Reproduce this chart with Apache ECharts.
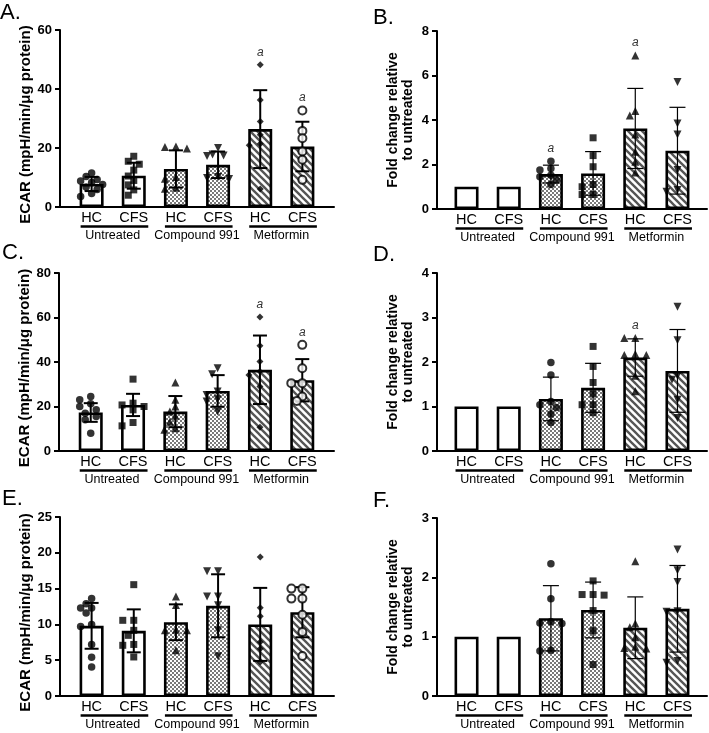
<!DOCTYPE html>
<html><head><meta charset="utf-8">
<script src="https://cdn.jsdelivr.net/npm/echarts@6/dist/echarts.min.js"></script>
<style>html,body{margin:0;padding:0;background:#fff}#c{width:709px;height:733px}</style>
</head><body><div id="c"></div>
<script>
// ---------- DATA ----------
const categories = ['HC', 'CFS', 'HC', 'CFS', 'HC', 'CFS'];
const groupNames = ['Untreated', 'Compound 991', 'Metformin'];
const groupSpans = [[0, 1], [2, 3], [4, 5]];
const ecarTitle = 'ECAR (mpH/min/\u03bcg protein)';
const foldTitle = 'Fold change relative\nto untreated';
const panelLetters = ['A.', 'B.', 'C.', 'D.', 'E.', 'F.'];

const yTicksA = [0, 20, 40, 60];
const yTicksB = [0, 2, 4, 6, 8];
const yTicksC = [0, 20, 40, 60, 80];
const yTicksD = [0, 1, 2, 3, 4];
const yTicksE = [0, 5, 10, 15, 20, 25];
const yTicksF = [0, 1, 2, 3];

// Panel A
const aMeans = [7.8, 10.6, 12.9, 14.3, 26.4, 20.5];
const aSD = [2.4, 4.4, 6.3, 4.5, 13.2, 8.4];
const aPoints = [
  [11.5, 10.3, 9.3, 8.8, 8.3, 7.6, 6.8, 5.9, 4.6, 3.6],
  [17.2, 15.5, 14.5, 12.5, 10.5, 9.0, 7.5, 5.8, 4.0],
  [20.5, 20.3, 19.8, 10.2, 9.6, 6.5, 6.2],
  [20.0, 17.8, 17.5, 17.3, 10.2, 9.8, 9.5],
  [48.2, 36.3, 29.0, 24.5, 21.4, 20.9, 6.1],
  [32.7, 25.8, 23.3, 18.8, 16.0, 9.2]
];
const aSig = [0, 0, 0, 0, 1, 1];

// Panel B
const bMeans = [1, 1, 1.57, 1.6, 3.62, 2.62];
const bSD = [0, 0, 0.4, 0.98, 1.8, 1.95];
const bPoints = [
  [], [],
  [2.15, 1.82, 1.75, 1.52, 1.45, 1.3, 1.1],
  [3.2, 2.4, 1.9, 1.1, 1.0, 0.65, 0.65],
  [6.9, 4.4, 4.2, 3.35, 2.57, 2.12, 1.64],
  [5.71, 3.84, 3.35, 1.75, 0.85, 0.78]
];
const bSig = [0, 0, 1, 0, 1, 0];

// Panel C
const cMeans = [17.3, 20.7, 17.7, 27.0, 36.5, 31.8];
const cSD = [4.2, 5.0, 7.0, 7.1, 15.4, 9.5];
const cPoints = [
  [24.5, 23.0, 21.2, 20.0, 18.5, 17.0, 15.5, 14.0, 8.0],
  [32.3, 21.5, 20.7, 20.0, 18.5, 12.8, 11.3],
  [30.8, 23.0, 20.0, 17.7, 15.8, 13.2, 10.2, 9.5],
  [37.2, 34.5, 26.7, 25.2, 23.3, 22.2, 17.7],
  [60.2, 47.3, 40.2, 35.7, 34.2, 29.0, 10.7],
  [47.7, 37.2, 30.5, 30.5, 24.5, 22.5]
];
const cSig = [0, 0, 0, 0, 1, 1];

// Panel D
const dMeans = [1, 1, 1.17, 1.42, 2.1, 1.8];
const dSD = [0, 0, 0.49, 0.55, 0.42, 0.93];
const dPoints = [
  [], [],
  [1.99, 1.71, 1.11, 1.04, 0.98, 0.83, 0.64],
  [2.35, 1.9, 1.54, 1.28, 1.04, 1.04, 0.86],
  [2.54, 2.54, 2.18, 2.16, 2.16, 1.69, 1.34],
  [3.24, 2.49, 1.69, 1.6, 1.15, 0.74]
];
const dSig = [0, 0, 0, 0, 1, 0];

// Panel E
const eMeans = [9.8, 9.1, 10.3, 12.6, 10.0, 11.7];
const eSD = [3.2, 3.0, 2.5, 4.4, 5.1, 3.5];
const ePoints = [
  [13.6, 12.9, 12.3, 12.3, 11.6, 10.0, 9.7, 7.2, 5.4, 4.05],
  [15.55, 10.57, 10.57, 9.17, 8.47, 7.2, 7.08, 5.45],
  [13.9, 12.7, 9.26, 9.17, 9.17, 6.38],
  [17.41, 17.41, 13.9, 13.9, 12.66, 9.17, 5.54],
  [19.41, 12.34, 11.13, 7.54, 6.61, 4.75],
  [15.0, 15.0, 13.6, 13.6, 11.36, 8.94, 5.59]
];
const eSig = [0, 0, 0, 0, 0, 0];

// Panel F
const fMeans = [1, 1, 1.31, 1.45, 1.15, 1.47];
const fSD = [0, 0, 0.55, 0.47, 0.52, 0.73];
const fPoints = [
  [], [],
  [2.23, 1.64, 1.25, 1.23, 1.22, 0.77, 0.76],
  [1.94, 1.71, 1.71, 1.7, 1.44, 1.1, 0.53],
  [2.27, 1.22, 1.16, 0.99, 0.83, 0.81, 0.8],
  [2.47, 2.12, 1.92, 1.43, 1.42, 0.59, 0.56]
];
const fSig = [0, 0, 0, 0, 0, 0];

// ---------- STYLE / LAYOUT ----------
const FONT = '"Liberation Sans", Arial, Helvetica, sans-serif';

function makeChecker() {
  const c = document.createElement('canvas'); c.width = 4; c.height = 4;
  const g = c.getContext('2d');
  g.fillStyle = '#fff'; g.fillRect(0, 0, 4, 4);
  g.fillStyle = '#7a7a7a'; g.fillRect(0, 0, 2, 2); g.fillRect(2, 2, 2, 2);
  return c;
}
function makeStripes() {
  const s = 7;
  const c = document.createElement('canvas'); c.width = s; c.height = s;
  const g = c.getContext('2d');
  g.fillStyle = '#fff'; g.fillRect(0, 0, s, s);
  g.strokeStyle = '#555'; g.lineWidth = 2.3;
  for (const k of [-s, 0, s]) { g.beginPath(); g.moveTo(-1, k - 1); g.lineTo(s + 1, s + k + 1); g.stroke(); }
  return c;
}
const checkerFill = { image: makeChecker(), repeat: 'repeat' };
const stripeFill = { image: makeStripes(), repeat: 'repeat' };
const barFills = ['#fff', '#fff', checkerFill, checkerFill, stripeFill, stripeFill];

const ecarSymbols = [
  { symbol: 'circle', size: 7.5, rot: 0, open: false },
  { symbol: 'rect', size: 7, rot: 0, open: false },
  { symbol: 'triangle', size: 8, rot: 0, open: false },
  { symbol: 'triangle', size: 8, rot: 180, open: false },
  { symbol: 'diamond', size: 7, rot: 0, open: false },
  { symbol: 'circle', size: 8, rot: 0, open: true }
];
const foldSymbols = [
  null, null,
  { symbol: 'circle', size: 7.5, rot: 0, open: false },
  { symbol: 'rect', size: 7, rot: 0, open: false },
  { symbol: 'triangle', size: 8, rot: 0, open: false },
  { symbol: 'triangle', size: 8, rot: 180, open: false }
];

const panels = [
  { means: aMeans, sd: aSD, pts: aPoints, sig: aSig, ticks: yTicksA, kind: 'ecar',
    L: { left: 60, top: 30, width: 274, height: 177, xmin: -0.75, xmax: 5.75, lx: 0, ly: 15 } },
  { means: bMeans, sd: bSD, pts: bPoints, sig: bSig, ticks: yTicksB, kind: 'fold',
    L: { left: 437, top: 31, width: 270, height: 178, xmin: -0.7, xmax: 5.7, lx: 373, ly: 20 } },
  { means: cMeans, sd: cSD, pts: cPoints, sig: cSig, ticks: yTicksC, kind: 'ecar',
    L: { left: 59, top: 273, width: 275, height: 178, xmin: -0.75, xmax: 5.75, lx: 2, ly: 255 } },
  { means: dMeans, sd: dSD, pts: dPoints, sig: dSig, ticks: yTicksD, kind: 'fold',
    L: { left: 437, top: 273, width: 270, height: 178, xmin: -0.7, xmax: 5.7, lx: 373, ly: 257 } },
  { means: eMeans, sd: eSD, pts: ePoints, sig: eSig, ticks: yTicksE, kind: 'ecar',
    L: { left: 60, top: 517, width: 274, height: 179, xmin: -0.75, xmax: 5.75, lx: 2, ly: 501 } },
  { means: fMeans, sd: fSD, pts: fPoints, sig: fSig, ticks: yTicksF, kind: 'fold',
    L: { left: 437, top: 518, width: 270, height: 178, xmin: -0.7, xmax: 5.7, lx: 373, ly: 503 } }
];

// deterministic beeswarm-like horizontal spreading (pixel based)
function swarm(vals, pxY, unitPx) {
  const order = vals.map((v, i) => i).sort((a, b) => vals[b] - vals[a]);
  const placed = [], res = new Array(vals.length).fill(0);
  const cand = [0, -1, 1, -2, 2];
  const step = 5.5, minD = 6.5;
  for (const i of order) {
    const y = vals[i] * pxY;
    let best = 0, bestD = -1;
    for (const k of cand) {
      const x = k * step;
      const d = placed.length ? Math.min(...placed.map(p => Math.hypot(p.x - x, p.y - y))) : 1e9;
      if (d >= minD) { best = x; bestD = 1e9; break; }
      if (d > bestD) { bestD = d; best = x; }
    }
    placed.push({ x: best, y: y });
    res[i] = best / unitPx;
  }
  return res;
}

const option = {
  backgroundColor: '#fff', animation: false,
  textStyle: { fontFamily: FONT },
  grid: [], xAxis: [], yAxis: [], series: [], graphic: []
};

panels.forEach((p, gi) => {
  const L = p.L;
  const ymax = p.ticks[p.ticks.length - 1];
  const yint = p.ticks[1] - p.ticks[0];
  const isEcar = p.kind === 'ecar';
  const unitPx = L.width / (L.xmax - L.xmin);
  const pxY = L.height / ymax;

  option.grid.push({ left: L.left, top: L.top, width: L.width, height: L.height, containLabel: false, outerBoundsMode: 'none' });
  option.xAxis.push({
    type: 'value', gridIndex: gi, min: L.xmin, max: L.xmax,
    axisLine: { show: true, onZero: false, lineStyle: { color: '#000', width: 2 } },
    axisTick: { show: false }, axisLabel: { show: false }, splitLine: { show: false }
  });
  option.yAxis.push({
    type: 'value', gridIndex: gi, min: 0, max: ymax, interval: yint,
    name: isEcar ? ecarTitle : foldTitle, nameLocation: 'middle', nameRotate: 90, nameGap: isEcar ? 21.5 : 21,
    nameTextStyle: isEcar
      ? { fontFamily: FONT, fontWeight: 'bold', fontSize: 15, color: '#000', padding: [0, 12, 0, 0] }
      : { fontFamily: FONT, fontWeight: 'bold', fontSize: 14, color: '#000', lineHeight: 15.5 },
    axisLine: { show: true, onZero: false, lineStyle: { color: '#000', width: 2 } },
    axisTick: { show: true, length: 5, lineStyle: { color: '#000', width: 2 } },
    axisLabel: { color: '#000', fontWeight: 'bold', fontSize: 13, margin: 8, fontFamily: FONT },
    splitLine: { show: false }
  });

  // bars
  option.series.push({
    type: 'bar', xAxisIndex: gi, yAxisIndex: gi, barWidth: 24, z: 2, silent: true,
    data: p.means.map((m, i) => ({ value: [i, m], itemStyle: { color: barFills[i], borderColor: '#000', borderWidth: 2.6 } }))
  });

  // error bars
  const lw = isEcar ? 2 : 1.2, cap = isEcar ? 7 : 8;
  option.series.push({
    type: 'custom', xAxisIndex: gi, yAxisIndex: gi, z: 4, silent: true, clip: false,
    data: p.means.map((m, i) => [i, m - p.sd[i], m + p.sd[i]]).filter((d, i) => p.sd[i] > 0),
    renderItem: function (params, api) {
      const i = api.value(0);
      const a = api.coord([i, api.value(1)]), b = api.coord([i, api.value(2)]);
      const st = { stroke: '#000', lineWidth: lw };
      return { type: 'group', children: [
        { type: 'line', shape: { x1: a[0], y1: a[1], x2: b[0], y2: b[1] }, style: st },
        { type: 'line', shape: { x1: a[0] - cap, y1: a[1], x2: a[0] + cap, y2: a[1] }, style: st },
        { type: 'line', shape: { x1: b[0] - cap, y1: b[1], x2: b[0] + cap, y2: b[1] }, style: st }
      ] };
    }
  });

  // points
  const syms = isEcar ? ecarSymbols : foldSymbols;
  const scatterData = [];
  p.pts.forEach((vals, i) => {
    if (!vals.length) return;
    const s = syms[i];
    const offs = swarm(vals, pxY, unitPx);
    vals.forEach((v, k) => {
      scatterData.push({
        value: [i + offs[k], v], symbol: s.symbol, symbolSize: s.size, symbolRotate: s.rot,
        itemStyle: s.open ? { color: '#fff', borderColor: '#000', borderWidth: 2 } : { color: '#000', borderWidth: 0 }
      });
    });
  });
  option.series.push({ type: 'scatter', xAxisIndex: gi, yAxisIndex: gi, z: 5, silent: true, data: scatterData });

  // category labels
  option.series.push({
    type: 'custom', xAxisIndex: gi, yAxisIndex: gi, z: 5, silent: true, clip: false,
    data: categories.map((c, i) => [i, 0]),
    renderItem: function (params, api) {
      const pt = api.coord([api.value(0), 0]);
      return { type: 'text', style: { text: categories[params.dataIndex], x: pt[0], y: pt[1] + 10.5,
        align: 'center', verticalAlign: 'middle', font: '14.5px ' + FONT, fill: '#000' } };
    }
  });
  // group underline + names
  option.series.push({
    type: 'custom', xAxisIndex: gi, yAxisIndex: gi, z: 5, silent: true, clip: false,
    data: groupSpans.map(s => [s[0], 0, s[1]]),
    renderItem: function (params, api) {
      const a = api.coord([api.value(0), 0]), b = api.coord([api.value(2), 0]);
      return { type: 'group', children: [
        { type: 'line', shape: { x1: a[0] - 11, y1: a[1] + 19.5, x2: b[0] + 14.5, y2: a[1] + 19.5 }, style: { stroke: '#000', lineWidth: 2.6 } },
        { type: 'text', style: { text: groupNames[params.dataIndex], x: (a[0] + b[0]) / 2, y: a[1] + 28.5,
          align: 'center', verticalAlign: 'middle', font: '12.5px ' + FONT, fill: '#000' } }
      ] };
    }
  });
  // significance markers
  const sigData = [];
  p.sig.forEach((s, i) => {
    if (!s) return;
    const top = Math.max(p.means[i] + p.sd[i], ...(p.pts[i].length ? p.pts[i] : [0]));
    sigData.push([i, top]);
  });
  if (sigData.length) {
    option.series.push({
      type: 'custom', xAxisIndex: gi, yAxisIndex: gi, z: 6, silent: true, clip: false,
      data: sigData,
      renderItem: function (params, api) {
        const pt = api.coord([api.value(0), api.value(1)]);
        return { type: 'text', style: { text: 'a', x: pt[0], y: pt[1] - 12.5, align: 'center', verticalAlign: 'middle',
          font: 'italic 12px ' + FONT, fill: '#333' } };
      }
    });
  }

  option.graphic.push({ type: 'text', left: L.lx, top: L.ly - 13, silent: true,
    style: { text: panelLetters[gi], font: '22px ' + FONT, fill: '#000' } });
});

const chart = echarts.init(document.getElementById('c'), null, { renderer: 'canvas' });
chart.setOption(option);
</script>
</body></html>
